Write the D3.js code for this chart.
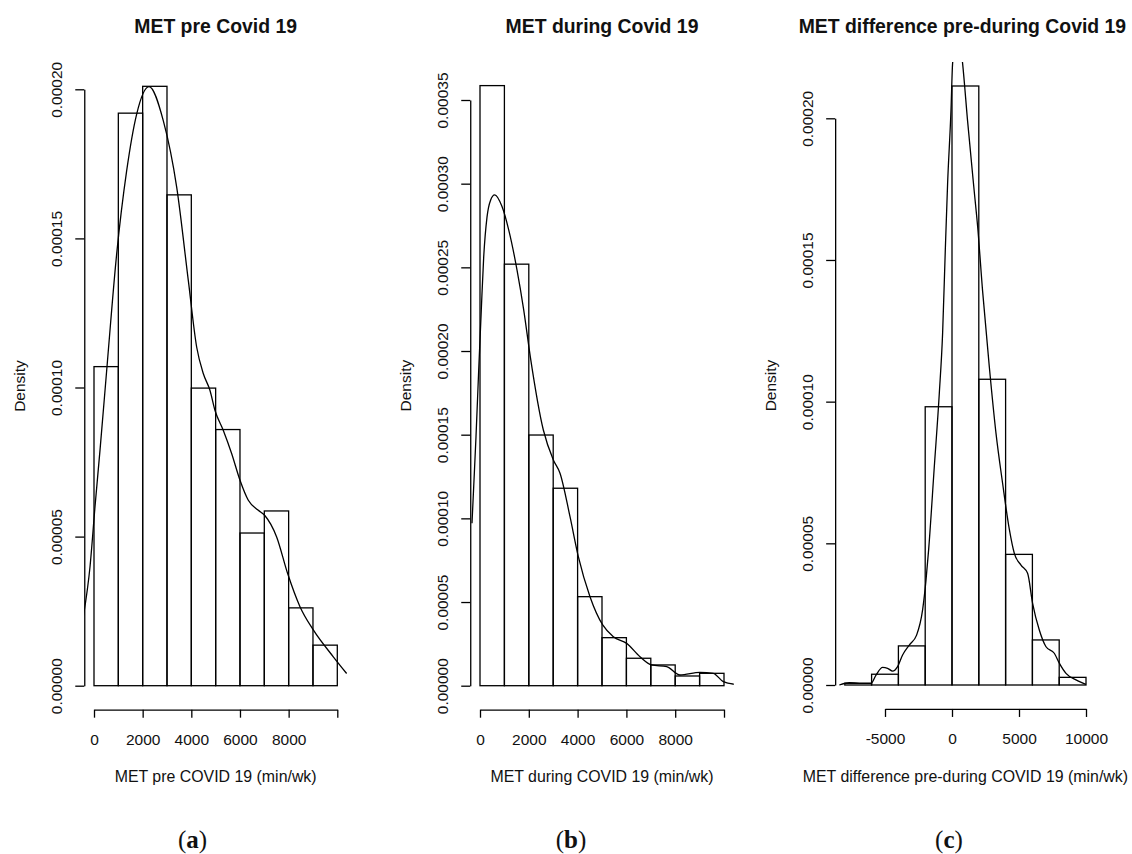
<!DOCTYPE html>
<html>
<head>
<meta charset="utf-8">
<script src="https://cdn.jsdelivr.net/npm/d3@7"></script>
<style>
  body { margin: 0; background: #fff; }
  svg { display: block; }
  text { font-family: "Liberation Sans", Arial, sans-serif; fill: #111; }
  text.caption { font-family: "Liberation Serif", "Times New Roman", serif; }
</style>
</head>
<body>
<div id="chart"></div>
<script>
// ---- data ----
// (a) MET pre Covid 19
var preBreaks = [0, 1000, 2000, 3000, 4000, 5000, 6000, 7000, 8000, 9000, 10000];
var preDensity = [10.7e-5, 19.2e-5, 20.1e-5, 16.46e-5, 9.98e-5, 8.59e-5, 5.12e-5, 5.86e-5, 2.61e-5, 1.36e-5];
var preCurveX = [-440, -164, 41, 247, 521, 932, 1343, 1754, 2260, 2850, 3400, 3876, 4221, 4495, 4768, 4974, 5316, 5660, 6001, 6342, 6753, 7028, 7507, 7959, 8466, 9014, 9836, 10384];
var preCurveY = [2.31e-5, 3.99e-5, 6.0e-5, 7.9e-5, 10.57e-5, 14.48e-5, 17.27e-5, 19.17e-5, 20.09e-5, 18.94e-5, 16.71e-5, 13.59e-5, 11.35e-5, 10.46e-5, 9.9e-5, 9.23e-5, 8.56e-5, 7.78e-5, 6.89e-5, 6.22e-5, 5.88e-5, 5.7e-5, 4.99e-5, 3.76e-5, 2.65e-5, 1.87e-5, 0.97e-5, 0.41e-5];
var preXTicks = [0, 2000, 4000, 6000, 8000, 10000];
var preXLabels = ["0", "2000", "4000", "6000", "8000", ""];
var preYTicks = [0, 0.00005, 0.0001, 0.00015, 0.0002];

// (b) MET during Covid 19
var durBreaks = [0, 1000, 2000, 3000, 4000, 5000, 6000, 7000, 8000, 9000, 10000];
var durDensity = [35.86e-5, 25.19e-5, 14.98e-5, 11.8e-5, 5.32e-5, 2.87e-5, 1.64e-5, 1.24e-5, 0.58e-5, 0.74e-5];
var durCurveX = [-328, -258, -164, -53, 53, 151, 287, 430, 602, 902, 1176, 1516, 1791, 2061, 2596, 3006, 3279, 3689, 4030, 4508, 5029, 5464, 6012, 6557, 7037, 7652, 8197, 9016, 9561, 9971, 10451];
var durCurveY = [9.71e-5, 11.9e-5, 14.88e-5, 18.87e-5, 22.46e-5, 25.6e-5, 28.0e-5, 29.0e-5, 29.33e-5, 28.63e-5, 27.24e-5, 24.85e-5, 22.46e-5, 19.67e-5, 15.28e-5, 13.49e-5, 12.7e-5, 10.1e-5, 7.71e-5, 5.32e-5, 3.63e-5, 2.93e-5, 2.53e-5, 1.73e-5, 1.24e-5, 1.14e-5, 0.64e-5, 0.8e-5, 0.74e-5, 0.24e-5, 0.08e-5];
var durXTicks = [0, 2000, 4000, 6000, 8000, 10000];
var durXLabels = ["0", "2000", "4000", "6000", "8000", ""];
var durYTicks = [0, 0.00005, 0.0001, 0.00015, 0.0002, 0.00025, 0.0003, 0.00035];

// (c) MET difference pre-during Covid 19
var difBreaks = [-8000, -6000, -4000, -2000, 0, 2000, 4000, 6000, 8000, 10000];
var difDensity = [0.06e-5, 0.38e-5, 1.38e-5, 9.82e-5, 21.14e-5, 10.79e-5, 4.61e-5, 1.59e-5, 0.27e-5];
var difCurveX = [-8410, -7664, -6918, -6045, -5672, -5179, -4806, -4433, -4060, -3687, -3187, -2642, -2194, -1940, -1746, -1321, -948, -701, -500, -328, -75, 45, 450, 791, 1164, 1664, 1910, 2284, 2784, 3284, 3776, 4276, 4649, 5149, 5642, 6015, 6515, 7015, 7634, 8007, 8507, 9254, 10000];
var difCurveY = [0, 0.08e-5, 0.06e-5, 0.06e-5, 0.35e-5, 0.62e-5, 0.59e-5, 0.49e-5, 0.65e-5, 1.06e-5, 1.41e-5, 1.76e-5, 2.65e-5, 3.7e-5, 4.76e-5, 7.7e-5, 10.29e-5, 12.41e-5, 15.35e-5, 17.7e-5, 20.29e-5, 21.94e-5, 23.2e-5, 21.94e-5, 19.9e-5, 17.4e-5, 16.2e-5, 13.9e-5, 11.23e-5, 8.88e-5, 7.12e-5, 5.5e-5, 4.65e-5, 4.23e-5, 3.94e-5, 2.88e-5, 1.94e-5, 1.35e-5, 1.12e-5, 0.77e-5, 0.41e-5, 0.18e-5, 0.02e-5];
var difXTicks = [-5000, 0, 5000, 10000];
var difXLabels = ["-5000", "0", "5000", "10000"];
var difYTicks = [0, 0.00005, 0.0001, 0.00015, 0.0002];

var titles = ["MET pre Covid 19", "MET during Covid 19", "MET difference pre-during Covid 19"];
var xTitles = ["MET pre COVID 19 (min/wk)", "MET during COVID 19 (min/wk)", "MET difference pre-during COVID 19 (min/wk)"];
var captions = ["a", "b", "c"];

// ---- layout ----
var width = 1132, height = 854;

var svg = d3.select("#chart")
    .append("svg")
    .attr("width", width)
    .attr("height", height);

var panels = [
    { breaks: preBreaks, dens: preDensity, cx: preCurveX, cy: preCurveY,
      xTicks: preXTicks, xLabels: preXLabels, yTicks: preYTicks,
      xDom: [0, 10000], xRange: [94, 337.3], yDom: [0, 0.0002], yRange: [685.7, 89.3], capX: 192.5, titleShift: 0 },
    { breaks: durBreaks, dens: durDensity, cx: durCurveX, cy: durCurveY,
      xTicks: durXTicks, xLabels: durXLabels, yTicks: durYTicks,
      xDom: [0, 10000], xRange: [480, 724], yDom: [0, 0.00035], yRange: [685.7, 100], capX: 571, titleShift: 0 },
    { breaks: difBreaks, dens: difDensity, cx: difCurveX, cy: difCurveY,
      xTicks: difXTicks, xLabels: difXLabels, yTicks: difYTicks,
      xDom: [-5000, 10000], xRange: [885, 1086], yDom: [0, 0.0002], yRange: [685, 118.3], capX: 949, titleShift: -3 }
];

var fmt = d3.format(".5f");

panels.forEach(function (p, i) {

    var x = d3.scaleLinear().domain(p.xDom).range(p.xRange);
    var y = d3.scaleLinear().domain(p.yDom).range(p.yRange);

    // R style plot region: data range + 4% each side
    var lo = p.breaks[0], hi = p.breaks[p.breaks.length - 1];
    var ymax = d3.max(p.dens);
    var left = x(lo - 0.04 * (hi - lo)),
        right = x(hi + 0.04 * (hi - lo)),
        top = y(ymax * 1.04),
        bottom = y(-0.04 * ymax);

    var g = svg.append("g");

    g.append("clipPath")
        .attr("id", "clip" + i)
        .append("rect")
        .attr("x", left)
        .attr("y", top)
        .attr("width", right - left)
        .attr("height", bottom - top);

    // bars
    var bins = p.dens.map(function (d, j) {
        return { x0: p.breaks[j], x1: p.breaks[j + 1], d: d };
    });

    g.selectAll("rect.bar")
        .data(bins)
        .enter()
        .append("rect")
        .attr("class", "bar")
        .attr("x", function (d) { return x(d.x0); })
        .attr("y", function (d) { return y(d.d); })
        .attr("width", function (d) { return x(d.x1) - x(d.x0); })
        .attr("height", function (d) { return y(0) - y(d.d); })
        .attr("fill", "none")
        .attr("stroke", "#000")
        .attr("stroke-width", 1.3);

    // density curve
    var pts = p.cx.map(function (v, j) { return [v, p.cy[j]]; });
    var line = d3.line()
        .x(function (d) { return x(d[0]); })
        .y(function (d) { return y(d[1]); })
        .curve(d3.curveMonotoneX);

    g.append("path")
        .datum(pts)
        .attr("clip-path", "url(#clip" + i + ")")
        .attr("d", line)
        .attr("fill", "none")
        .attr("stroke", "#000")
        .attr("stroke-width", 1.3);

    // y axis
    var yAxis = g.append("g")
        .attr("transform", "translate(" + left + ",0)")
        .call(d3.axisLeft(y).tickValues(p.yTicks).tickSize(9).tickSizeOuter(0).tickFormat(fmt));
    yAxis.select(".domain").attr("stroke-width", 1.3);
    yAxis.selectAll(".tick line").attr("stroke-width", 1.3);
    yAxis.selectAll(".tick text")
        .attr("transform", "rotate(-90)")
        .attr("x", 0)
        .attr("y", -22)
        .attr("dy", null)
        .attr("text-anchor", "middle")
        .attr("font-size", "15.5px")
        .attr("font-family", null)
        .attr("fill", "#111");

    // x axis
    var xAxis = g.append("g")
        .attr("transform", "translate(0," + bottom + ")")
        .call(d3.axisBottom(x).tickValues(p.xTicks).tickSize(8).tickSizeOuter(0)
            .tickFormat(function (d, j) { return p.xLabels[j]; }));
    xAxis.select(".domain").attr("stroke-width", 1.3);
    xAxis.selectAll(".tick line").attr("stroke-width", 1.3);
    xAxis.selectAll(".tick text")
        .attr("y", 35)
        .attr("dy", null)
        .attr("font-size", "15.5px")
        .attr("font-family", null)
        .attr("fill", "#111");

    var cxMid = (left + right) / 2;

    // title
    g.append("text")
        .attr("x", cxMid + p.titleShift)
        .attr("y", 33)
        .attr("text-anchor", "middle")
        .attr("font-size", "19.4px")
        .attr("font-weight", "bold")
        .text(titles[i]);

    // x label
    g.append("text")
        .attr("x", cxMid)
        .attr("y", 782)
        .attr("text-anchor", "middle")
        .attr("font-size", "15.9px")
        .text(xTitles[i]);

    // y label
    g.append("text")
        .attr("transform", "translate(" + (left - 59) + "," + ((top + bottom) / 2) + ") rotate(-90)")
        .attr("text-anchor", "middle")
        .attr("font-size", "15.5px")
        .text("Density");

    // caption
    var cap = g.append("text")
        .attr("class", "caption")
        .attr("x", p.capX)
        .attr("y", 848)
        .attr("text-anchor", "middle")
        .attr("font-size", "25px");
    cap.append("tspan").text("(");
    cap.append("tspan").attr("font-weight", "bold").text(captions[i]);
    cap.append("tspan").text(")");
});
</script>
</body>
</html>
